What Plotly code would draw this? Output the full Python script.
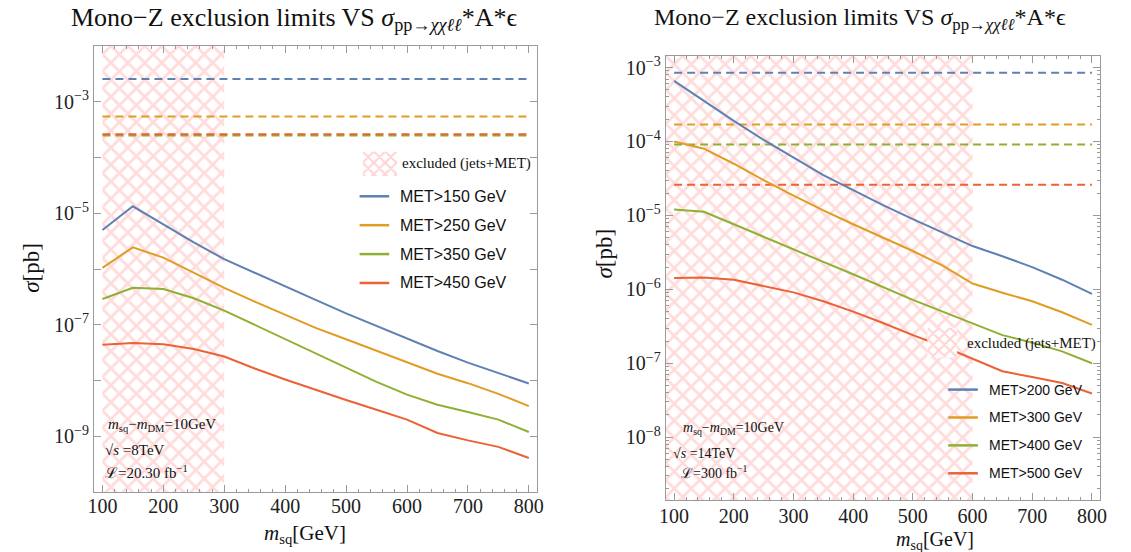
import plotly.graph_objects as go

W, H = 1131, 552

# ---------------- data ----------------
mass = [100, 150, 200, 250, 300, 350, 400, 450, 500, 550, 600, 650, 700, 750, 800]

# Left panel: 8 TeV, 20.30 fb^-1
left_names = ["MET>150 GeV", "MET>250 GeV", "MET>350 GeV", "MET>450 GeV"]
left_met150 = [5.0e-6, 1.33e-5, 6.3e-6, 3.0e-6, 1.5e-6, 8.5e-7, 4.8e-7, 2.8e-7, 1.6e-7, 9.5e-8, 5.6e-8, 3.4e-8, 2.1e-8, 1.35e-8, 8.9e-9]
left_met250 = [1.05e-6, 2.45e-6, 1.6e-6, 8.5e-7, 4.6e-7, 2.6e-7, 1.5e-7, 8.8e-8, 5.5e-8, 3.4e-8, 2.1e-8, 1.33e-8, 9.0e-9, 5.8e-9, 3.5e-9]
left_met350 = [2.9e-7, 4.6e-7, 4.4e-7, 3.0e-7, 1.8e-7, 1.0e-7, 5.5e-8, 3.0e-8, 1.66e-8, 9.5e-9, 5.6e-9, 3.7e-9, 2.75e-9, 2.0e-9, 1.2e-9]
left_met450 = [4.4e-8, 4.7e-8, 4.5e-8, 3.7e-8, 2.7e-8, 1.65e-8, 1.05e-8, 6.8e-9, 4.5e-9, 3.0e-9, 2.0e-9, 1.15e-9, 8.5e-10, 6.5e-10, 4.1e-10]
left_limits = [2.55e-3, 5.4e-4, 2.48e-4, 2.6e-4]
left_excluded = [100, 300]

# Right panel: 14 TeV, 300 fb^-1
right_names = ["MET>200 GeV", "MET>300 GeV", "MET>400 GeV", "MET>500 GeV"]
right_met200 = [6.6e-4, 3.5e-4, 1.9e-4, 1.05e-4, 6.0e-5, 3.5e-5, 2.2e-5, 1.38e-5, 8.9e-6, 5.9e-6, 3.85e-6, 2.8e-6, 2.0e-6, 1.35e-6, 8.7e-7]
right_met300 = [1.0e-4, 8.0e-5, 5.0e-5, 3.0e-5, 1.85e-5, 1.17e-5, 7.6e-6, 5.0e-6, 3.3e-6, 2.1e-6, 1.2e-6, 9.0e-7, 6.9e-7, 4.9e-7, 3.3e-7]
right_met400 = [1.2e-5, 1.12e-5, 7.6e-6, 5.1e-6, 3.5e-6, 2.35e-6, 1.6e-6, 1.07e-6, 7.2e-7, 5.0e-7, 3.5e-7, 2.4e-7, 1.9e-7, 1.45e-7, 1.0e-7]
right_met500 = [1.42e-6, 1.45e-6, 1.35e-6, 1.12e-6, 9.1e-7, 6.9e-7, 5.0e-7, 3.5e-7, 2.4e-7, 1.7e-7, 1.15e-7, 7.8e-8, 6.5e-8, 5.4e-8, 3.9e-8]
right_limits = [8.5e-4, 1.7e-4, 9.1e-5, 2.6e-5]
right_excluded = [86, 600]

colors = ["#5E81B5", "#E19C24", "#8FB032", "#EB6235"]

x_range = [86, 814]
left_yrange = [-10, -2]
right_yrange = [-8.852, -2.841]

SERIF = "Liberation Serif"
SANS = "Liberation Sans"
FRAME = "#9a9a9a"
HATCH = dict(shape="x", fgcolor="#FFB8B8", bgcolor="rgba(255,255,255,0)", size=12, solidity=0.4)


def P(x, y):
    return x / W, 1 - y / H


fig = go.Figure()


def add_panel(xa, ya, curves, limits, excl, yr):
    ylo, yhi = 10 ** yr[0], 10 ** yr[1]
    fig.add_trace(go.Scatter(
        x=[excl[0], excl[1], excl[1], excl[0], excl[0]],
        y=[ylo, ylo, yhi, yhi, ylo],
        fill="toself", mode="lines", line=dict(width=0),
        fillcolor="rgba(255,255,255,0)", fillpattern=HATCH,
        xaxis=xa, yaxis=ya, showlegend=False, hoverinfo="skip"))
    for c, lim in zip(colors, limits):
        fig.add_trace(go.Scatter(
            x=[mass[0], mass[-1]], y=[lim, lim], mode="lines",
            line=dict(color=c, width=2, dash="8px,5px"),
            xaxis=xa, yaxis=ya, showlegend=False))
    for c, ys in zip(colors, curves):
        fig.add_trace(go.Scatter(
            x=mass, y=ys, mode="lines", line=dict(color=c, width=2),
            xaxis=xa, yaxis=ya, showlegend=False))


add_panel("x", "y", [left_met150, left_met250, left_met350, left_met450],
          left_limits, left_excluded, left_yrange)
add_panel("x2", "y2", [right_met200, right_met300, right_met400, right_met500],
          right_limits, right_excluded, right_yrange)

# hatched legend swatches (on small hidden axes)
for xa, ya in (("x3", "y3"), ("x4", "y4")):
    fig.add_trace(go.Scatter(
        x=[0, 1, 1, 0, 0], y=[0, 0, 1, 1, 0], fill="toself", mode="lines",
        line=dict(width=0), fillcolor="rgba(255,255,255,0)",
        fillpattern=dict(shape="x", fgcolor="#FFA8A8", bgcolor="rgba(255,255,255,0)", size=8, solidity=0.45),
        xaxis=xa, yaxis=ya, showlegend=False, hoverinfo="skip"))

tickfont = dict(family=SERIF, size=20, color="#222")


def xaxis_cfg(dom, standoff):
    return dict(domain=dom, range=x_range, tickvals=[100, 200, 300, 400, 500, 600, 700, 800],
                ticks="inside", ticklen=7, tickcolor=FRAME, showline=True, linecolor=FRAME,
                mirror="allticks", showgrid=False, zeroline=False, tickfont=tickfont,
                ticklabelstandoff=standoff,
                minor=dict(dtick=20, ticks="inside", ticklen=3.5, tickcolor=FRAME, showgrid=False))


def sup(k):
    return "10<sup>\u2212%d</sup>" % k


left_major = [-3, -5, -7, -9]
left_tv = [10.0 ** e for e in left_major]
left_tt = [sup(-e) for e in left_major]
left_minor = [10.0 ** e for e in (-10, -8, -6, -4, -2)]
right_tv = [10.0 ** e for e in range(-8, -2)]
right_tt = [sup(-e) for e in range(-8, -2)]
right_minor = [m * 10.0 ** e for e in range(-9, -2) for m in range(2, 10)]

lx0, lx1 = 88 / W, 537 / W
rx0, rx1 = 667 / W, 1107 / W
ly0, ly1 = 1 - 492 / H, 1 - 44 / H
ry0, ry1 = 1 - 500 / H, 1 - 54 / H

fig.update_layout(
    width=W, height=H, margin=dict(l=0, r=0, t=0, b=0),
    paper_bgcolor="white", plot_bgcolor="white", showlegend=False,
    xaxis=xaxis_cfg([lx0, lx1], -4),
    xaxis2=dict(xaxis_cfg([rx0, rx1], -2), anchor="y2"),
    yaxis=dict(domain=[ly0, ly1], type="log", range=left_yrange, tickvals=left_tv, ticktext=left_tt,
               ticks="inside", ticklen=7, tickcolor=FRAME, showline=True, linecolor=FRAME,
               mirror="allticks", showgrid=False, zeroline=False, tickfont=tickfont,
               minor=dict(tickvals=left_minor, ticks="inside", ticklen=7, tickcolor=FRAME, showgrid=False)),
    yaxis2=dict(domain=[ry0, ry1], type="log", range=right_yrange, tickvals=right_tv, ticktext=right_tt,
                anchor="x2", ticks="inside", ticklen=7, tickcolor=FRAME, showline=True, linecolor=FRAME,
                mirror="allticks", showgrid=False, zeroline=False, tickfont=tickfont,
                minor=dict(tickvals=right_minor, ticks="inside", ticklen=3.5, tickcolor=FRAME, showgrid=False)),
    xaxis3=dict(domain=[360 / W, 395 / W], range=[0, 1], visible=False, anchor="y3"),
    yaxis3=dict(domain=[1 - 175 / H, 1 - 150 / H], range=[0, 1], visible=False, anchor="x3"),
    xaxis4=dict(domain=[932 / W, 962 / W], range=[0, 1], visible=False, anchor="y4"),
    yaxis4=dict(domain=[1 - 357 / H, 1 - 327 / H], range=[0, 1], visible=False, anchor="x4"),
)

ann = []
shapes = []


def text(x, y, s, size, family=SERIF, xanchor="left", angle=0):
    px, py = P(x, y)
    ann.append(dict(x=px, y=py, xref="paper", yref="paper", text=s, showarrow=False,
                    xanchor=xanchor, yanchor="middle", textangle=angle,
                    font=dict(family=family, size=size, color="#111")))


title = "Mono\u2212Z exclusion limits VS <i>\u03c3</i><sub>pp\u2192<i>\u03c7\u03c7\u2113\u2113</i></sub>*A*\u03f5"
text(291, 17, title, 26, xanchor="center")
text(864, 17, title, 24, xanchor="center")

text(24, 267, "<i>\u03c3</i>[pb]", 23, xanchor="center", angle=-90)
text(605, 253, "<i>\u03c3</i>[pb]", 23, xanchor="center", angle=-90)
text(302, 534, "<i>m</i><sub>sq</sub>[GeV]", 21, xanchor="center")
text(940, 540, "<i>m</i><sub>sq</sub>[GeV]", 20, xanchor="center")

# info texts
text(100, 425, "<i>m</i><sub>sq</sub>\u2212<i>m</i><sub>DM</sub>=10GeV", 15)
text(97, 450, "\u221a<i>s</i> =8TeV", 15)
text(97, 472, "\u2112=20.30 fb<sup>\u22121</sup>", 15)
text(682, 428, "<i>m</i><sub>sq</sub>\u2212<i>m</i><sub>DM</sub>=10GeV", 14)
text(672, 453, "\u221a<i>s</i> =14TeV", 14)
text(680, 472, "\u2112=300 fb<sup>\u22121</sup>", 14)

# legends
text(398, 162, "excluded (jets+MET)", 15)
for i, (nm, c) in enumerate(zip(left_names, colors)):
    yy = 195 + 29 * i
    x0, y0 = P(357, yy)
    x1, _ = P(387, yy)
    shapes.append(dict(type="line", xref="paper", yref="paper", x0=x0, x1=x1, y0=y0, y1=y0,
                       line=dict(color=c, width=2.5)))
    text(396, yy, nm, 16, family=SANS)

text(970, 343, "excluded (jets+MET)", 15)
for i, (nm, c) in enumerate(zip(right_names, colors)):
    yy = 389 + 28 * i
    x0, y0 = P(953, yy)
    x1, _ = P(983, yy)
    shapes.append(dict(type="line", xref="paper", yref="paper", x0=x0, x1=x1, y0=y0, y1=y0,
                       line=dict(color=c, width=2.5)))
    text(992, yy, nm, 14, family=SANS)

fig.update_layout(annotations=ann, shapes=shapes)
fig.write_html("out.html", config={"displayModeBar": False},
               post_script="document.body.style.margin='0px';document.body.style.overflow='hidden';")
